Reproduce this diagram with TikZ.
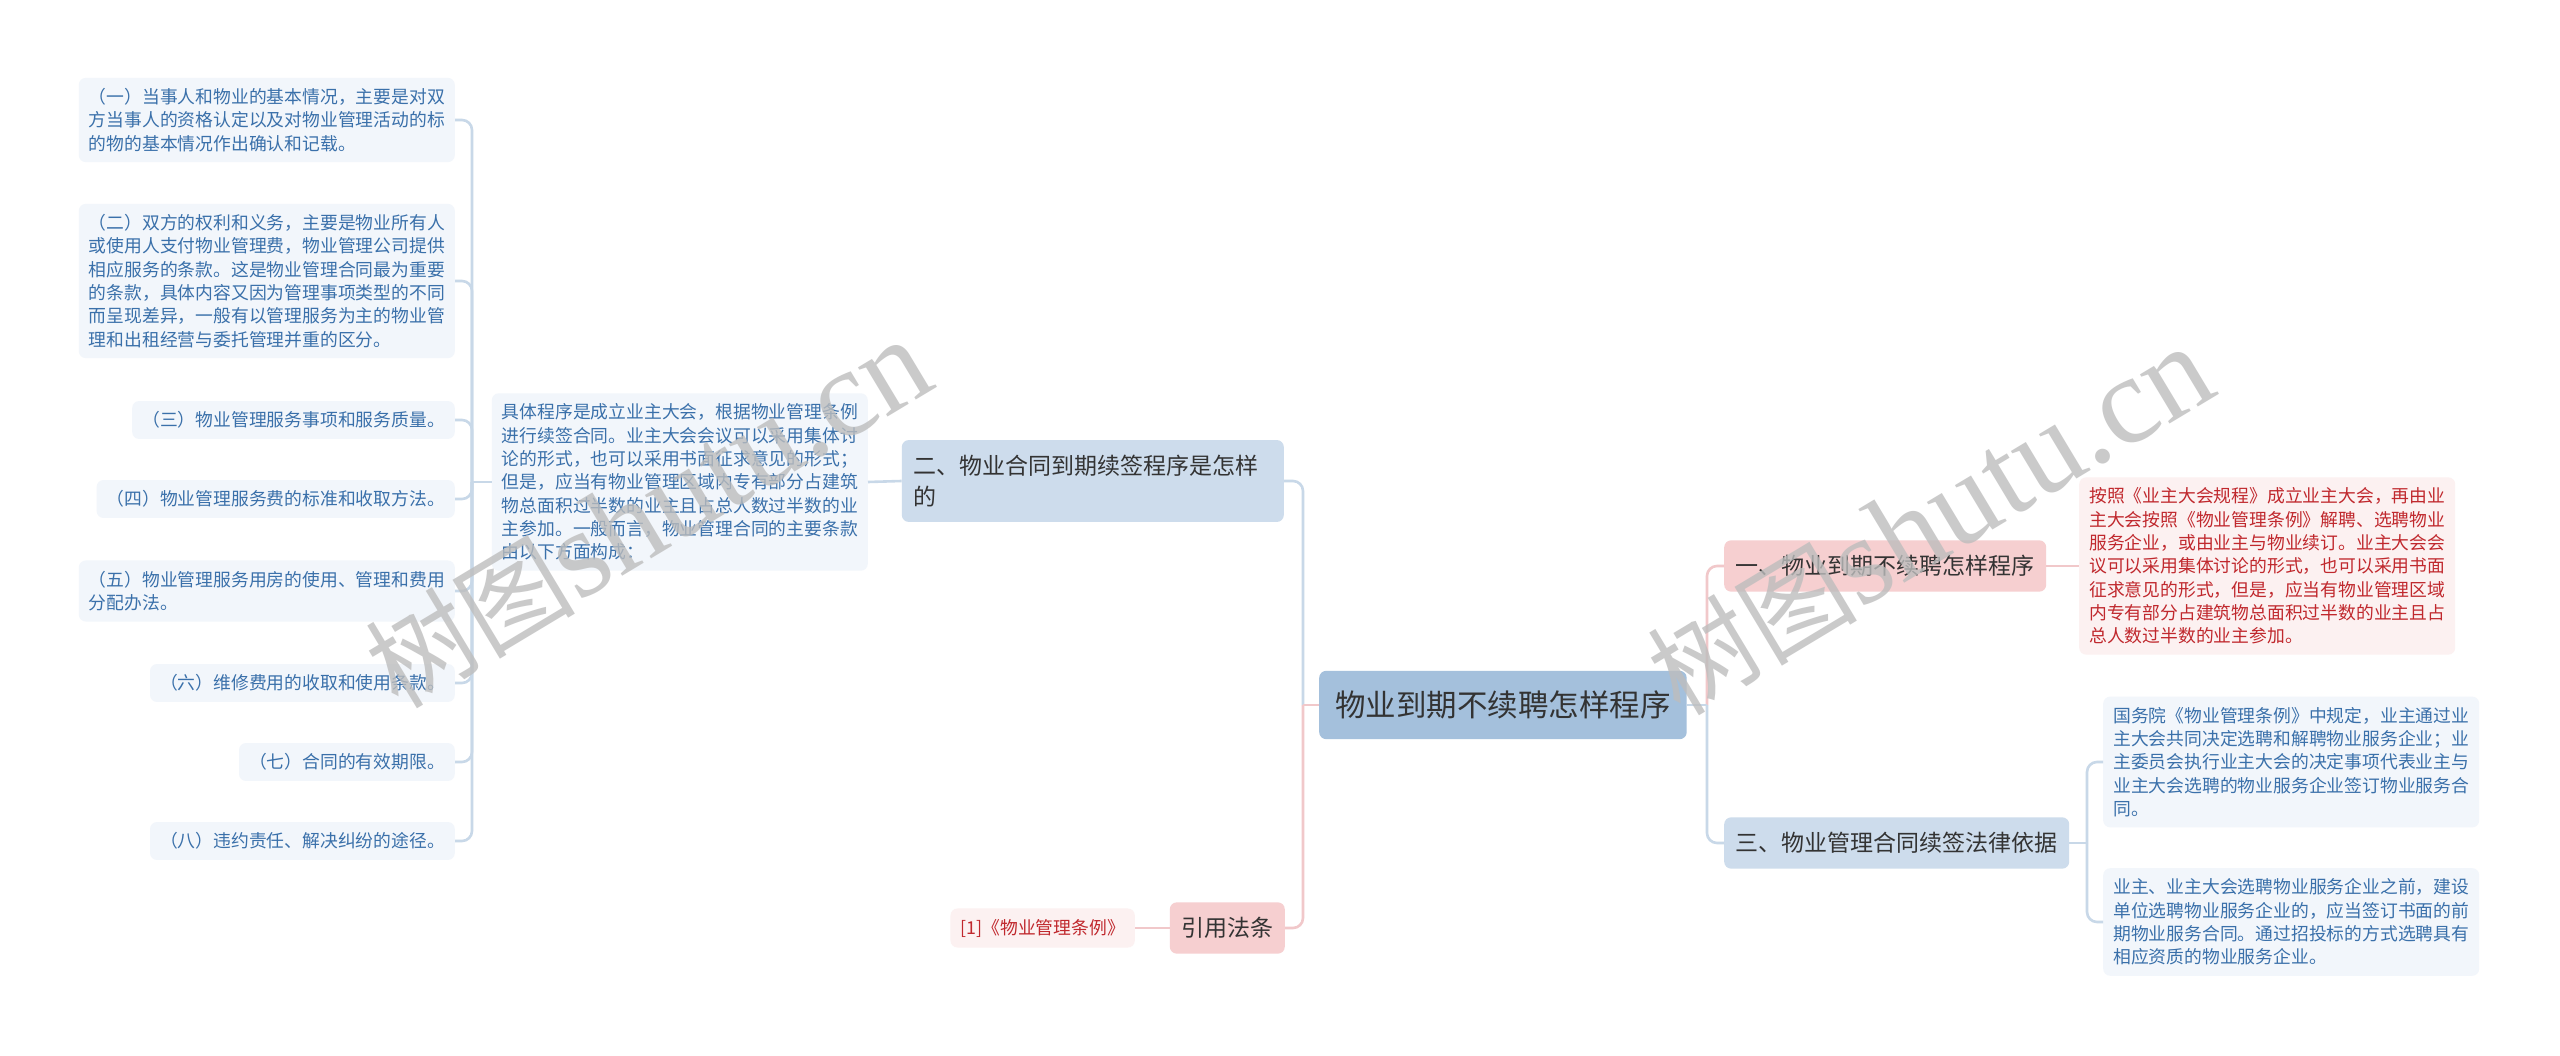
\documentclass[tikz,border=0pt]{standalone}
\usepackage{fontspec}
\setmainfont{Noto Sans CJK SC}
\newfontfamily\wmcjk{Noto Sans CJK SC}
\newfontfamily\wmlat{Liberation Serif}
\definecolor{rootfill}{HTML}{A4C0DC}
\definecolor{lvbfill}{HTML}{CDDCEC}
\definecolor{lvrfill}{HTML}{F6CFD0}
\definecolor{leafbfill}{HTML}{F2F6FB}
\definecolor{leafbtext}{HTML}{3A70AA}
\definecolor{leafrfill}{HTML}{FCF1F1}
\definecolor{leafrtext}{HTML}{C0282D}
\definecolor{darktext}{HTML}{333333}
\definecolor{linkb}{HTML}{C8D8E8}
\definecolor{linkr}{HTML}{F1C8CA}
\definecolor{wmgray}{HTML}{BDBDBD}
\tikzset{
  boxbase/.style={rounded corners=7pt, align=left},
  leafb/.style={boxbase, fill=leafbfill, text=leafbtext, inner xsep=10pt, inner ysep=10.5pt,
    font=\fontsize{17.8}{23.3}\selectfont},
  leafr/.style={boxbase, fill=leafrfill, text=leafrtext, inner xsep=10pt, inner ysep=10.5pt,
    font=\fontsize{17.8}{23.3}\selectfont},
  lvb/.style={boxbase, fill=lvbfill, text=darktext, inner xsep=11.5pt, inner ysep=15pt,
    font=\fontsize{23}{31}\selectfont},
  lvr/.style={boxbase, fill=lvrfill, text=darktext, inner xsep=11.5pt, inner ysep=15pt,
    font=\fontsize{23}{31}\selectfont},
  rootbox/.style={boxbase, fill=rootfill, text=darktext, inner xsep=16pt, inner ysep=20pt,
    font=\fontsize{30.5}{36}\selectfont},
  lkb/.style={draw=linkb, line width=2.6pt},
  lkr/.style={draw=linkr, line width=2.6pt},
  rc/.style={rounded corners=10pt},
  wmark/.style={text=wmgray, opacity=0.8, rotate=31, inner sep=0pt}
}
\begin{document}
\begin{tikzpicture}[x=1pt,y=-1pt]
\useasboundingbox (0,0) rectangle (2560,1056);
\fill[white] (0,0) rectangle (2560,1056);

% root
\node[rootbox, anchor=west] (root) at (1319,705) {物业到期不续聘怎样程序};

% left branch
\node[lvb, anchor=east, text width=359pt] (n2) at (1284,481) {二、物业合同到期续签程序是怎样\\的};
\node[leafb, anchor=east] (d2) at (868,482) {具体程序是成立业主大会，根据物业管理条例\\进行续签合同。业主大会会议可以采用集体讨\\论的形式，也可以采用书面征求意见的形式；\\但是，应当有物业管理区域内专有部分占建筑\\物总面积过半数的业主且占总人数过半数的业\\主参加。一般而言，物业管理合同的主要条款\\由以下方面构成：};

\node[leafb, anchor=east] (c1) at (455,120) {（一）当事人和物业的基本情况，主要是对双\\方当事人的资格认定以及对物业管理活动的标\\的物的基本情况作出确认和记载。};
\node[leafb, anchor=east] (c2) at (455,281) {（二）双方的权利和义务，主要是物业所有人\\或使用人支付物业管理费，物业管理公司提供\\相应服务的条款。这是物业管理合同最为重要\\的条款，具体内容又因为管理事项类型的不同\\而呈现差异，一般有以管理服务为主的物业管\\理和出租经营与委托管理并重的区分。};
\node[leafb, anchor=east] (c3) at (455,420) {（三）物业管理服务事项和服务质量。};
\node[leafb, anchor=east] (c4) at (455,499) {（四）物业管理服务费的标准和收取方法。};
\node[leafb, anchor=east] (c5) at (455,591) {（五）物业管理服务用房的使用、管理和费用\\分配办法。};
\node[leafb, anchor=east] (c6) at (455,683) {（六）维修费用的收取和使用条款。};
\node[leafb, anchor=east] (c7) at (455,762) {（七）合同的有效期限。};
\node[leafb, anchor=east] (c8) at (455,841) {（八）违约责任、解决纠纷的途径。};

\node[lvr, anchor=east] (yy) at (1285,928) {引用法条};
\node[leafr, anchor=east] (ref) at (1135,928) {[1]《物业管理条例》};

% right branch
\node[lvr, anchor=west] (n1) at (1724,566) {一、物业到期不续聘怎样程序};
\node[leafr, anchor=west] (r1) at (2079,566) {按照《业主大会规程》成立业主大会，再由业\\主大会按照《物业管理条例》解聘、选聘物业\\服务企业，或由业主与物业续订。业主大会会\\议可以采用集体讨论的形式，也可以采用书面\\征求意见的形式，但是，应当有物业管理区域\\内专有部分占建筑物总面积过半数的业主且占\\总人数过半数的业主参加。};

\node[lvb, anchor=west] (n3) at (1724,843) {三、物业管理合同续签法律依据};
\node[leafb, anchor=west] (b1) at (2103,762) {国务院《物业管理条例》中规定，业主通过业\\主大会共同决定选聘和解聘物业服务企业；业\\主委员会执行业主大会的决定事项代表业主与\\业主大会选聘的物业服务企业签订物业服务合\\同。};
\node[leafb, anchor=west] (b2) at (2103,922) {业主、业主大会选聘物业服务企业之前，建设\\单位选聘物业服务企业的，应当签订书面的前\\期物业服务合同。通过招投标的方式选聘具有\\相应资质的物业服务企业。};

% connectors
\coordinate (tl) at (472,482);
\coordinate (rl) at (1303,705);
\coordinate (rr) at (1707,705);
\coordinate (t3) at (2087,843);

\draw[lkb] (n2.west) -- (d2.east);
\draw[lkb] (d2.west) -- (tl);
\foreach \c in {c1,c2,c3,c4,c5,c6,c7,c8}
  \draw[lkb, rc] (tl) |- (\c.east);

\draw[lkb, rc] (rl) |- (n2.east);
\draw[lkr, rc] (rl) |- (yy.east);
\draw[lkr] (root.west) -- (rl);
\draw[lkr] (yy.west) -- (ref.east);

\draw[lkr, rc] (rr) |- (n1.west);
\draw[lkb, rc] (rr) |- (n3.west);
\draw[lkb] (root.east) -- (rr);
\draw[lkr] (n1.east) -- (r1.west);

\draw[lkb] (n3.east) -- (t3);
\draw[lkb, rc] (t3) |- (b1.west);
\draw[lkb, rc] (t3) |- (b2.west);

% watermarks
\node[wmark] (wm1) at (648,514) {{\wmcjk\fontsize{105}{105}\selectfont 树图}{\wmlat\fontsize{125}{125}\selectfont shutu.cn}};
\node[wmark] (wm2) at (1930,521) {{\wmcjk\fontsize{105}{105}\selectfont 树图}{\wmlat\fontsize{125}{125}\selectfont shutu.cn}};
\end{tikzpicture}
\end{document}
